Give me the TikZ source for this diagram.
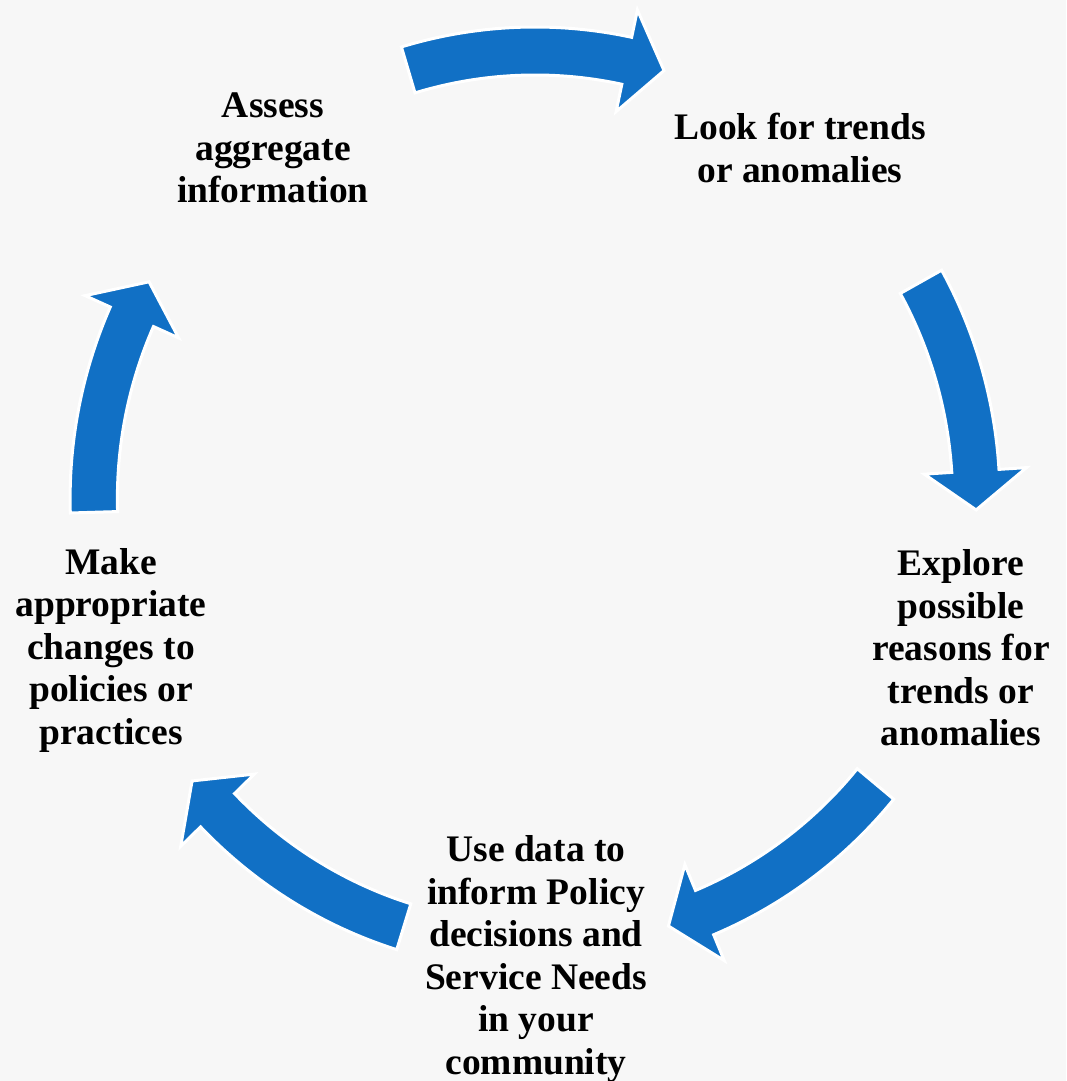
\documentclass[tikz,border=0pt]{standalone}
\usepackage{fontspec}
\setmainfont{Liberation Serif}
\definecolor{cycleblue}{RGB}{17,112,197}
\definecolor{paper}{RGB}{247,247,247}
\tikzset{
  steptext/.style={align=center, font=\bfseries\fontsize{37.5}{42.5}\selectfont, inner sep=0pt},
  ringarrow/.style={fill=cycleblue, draw=white, line width=3pt, line join=miter}
}
% curved arrow on the ring: #1 tail angle, #2 tip angle (clockwise)
\newcommand{\ringarrow}[2]{%
  \draw[ringarrow] (#1:472) arc[start angle=#1, end angle=#2+5, radius=472]
    -- (#2+5:500) -- (#2:448) -- (#2+5:396) -- (#2+5:424)
    arc[start angle=#2+5, end angle=#1, radius=424] -- cycle;}
\begin{document}
\begin{tikzpicture}[x=1pt,y=1pt]
  \fill[paper] (0,0) rectangle (1066,-1081);
  \useasboundingbox (0,0) rectangle (1066,-1081);
  \begin{scope}[shift={(535,-499)}, xscale=0.985]
    \ringarrow{106.7}{73}
    \ringarrow{29}{-1.4}
    \ringarrow{-39.5}{-72.4}
    \ringarrow{-107.3}{-141}
    \ringarrow{181.7}{151}
  \end{scope}
  \node[steptext] (assess)  at (273,-148) {Assess\\aggregate\\information};
  \node[steptext] (trends)  at (800,-148) {Look for trends\\or anomalies};
  \node[steptext] (explore) at (961,-648) {Explore\\possible\\reasons for\\trends or\\anomalies};
  \node[steptext] (usedata) at (536,-959) {Use data to\\inform Policy\\decisions and\\Service Needs\\in your\\community};
  \node[steptext] (make)    at (111,-650) {Make\\appropriate\\changes to\\policies or\\practices};
\end{tikzpicture}
\end{document}
